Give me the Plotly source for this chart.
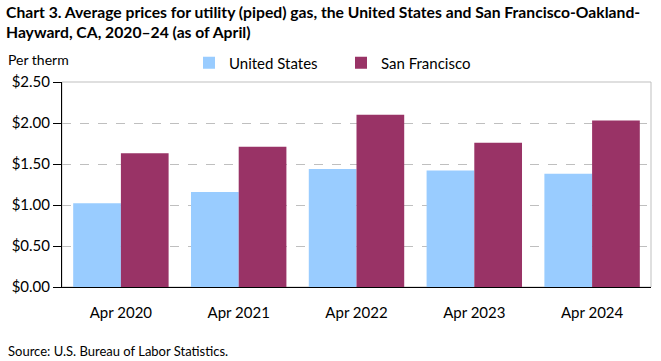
import plotly.graph_objects as go

categories = ["Apr 2020", "Apr 2021", "Apr 2022", "Apr 2023", "Apr 2024"]
us_values = [1.02, 1.16, 1.44, 1.42, 1.38]
sf_values = [1.63, 1.71, 2.10, 1.76, 2.03]
y_ticks = [0, 0.5, 1.0, 1.5, 2.0, 2.5]
y_tick_labels = ["$0.00", "$0.50", "$1.00", "$1.50", "$2.00", "$2.50"]

FONT = "Lato, Calibri, Carlito, sans-serif"
PLOT_W = 661 - 62 - 10
PLOT_H = 361 - 82 - 74


def px_x(px):
    return (px - 62) / PLOT_W


def px_y(py):
    return (361 - 74 - py) / PLOT_H


fig = go.Figure()
fig.add_trace(go.Bar(x=categories, y=us_values, name="United States",
                     marker=dict(color="#99CCFF", line=dict(width=0))))
fig.add_trace(go.Bar(x=categories, y=sf_values, name="San Francisco",
                     marker=dict(color="#993366", line=dict(width=0))))

fig.update_layout(
    width=661, height=361,
    margin=dict(l=62, r=10, t=82, b=74),
    paper_bgcolor="white", plot_bgcolor="white",
    font=dict(family=FONT, size=14, color="black"),
    barmode="group", bargap=0.19, bargroupgap=0,
    showlegend=True,
    legend=dict(orientation="h", x=px_x(189), xanchor="left", y=px_y(63), yanchor="middle",
                font=dict(size=15), entrywidth=107, entrywidthmode="pixels",
                traceorder="normal", bgcolor="rgba(0,0,0,0)"),
    shapes=[dict(type="rect", xref="paper", yref="paper", x0=0, x1=1, y0=0, y1=1,
                 line=dict(color="#BFBFBF", width=1), layer="below")],
    annotations=[
        dict(text="<b>Chart 3. Average prices for utility (piped) gas, the United States and San Francisco-Oakland-<br>Hayward, CA, 2020–24 (as of April)</b>",
             xref="paper", yref="paper", x=px_x(4), y=px_y(1), xanchor="left", yanchor="top",
             align="left", showarrow=False, font=dict(size=15.7)),
        dict(text="Per therm", xref="paper", yref="paper", x=px_x(6), y=px_y(60),
             xanchor="left", yanchor="middle", showarrow=False, font=dict(size=14)),
        dict(text="Source: U.S. Bureau of Labor Statistics.", xref="paper", yref="paper",
             x=px_x(6), y=px_y(351), xanchor="left", yanchor="middle", showarrow=False,
             font=dict(size=13)),
    ],
)
fig.update_yaxes(range=[0, 2.5], tickvals=y_ticks, ticktext=y_tick_labels,
                 showgrid=True, gridcolor="#BFBFBF", griddash="dash", gridwidth=1,
                 showline=True, linecolor="black", linewidth=1,
                 ticks="outside", ticklen=8, tickcolor="black",
                 tickfont=dict(size=15), zeroline=False)
fig.update_xaxes(showline=True, linecolor="black", linewidth=1, ticks="",
                 tickfont=dict(size=15), ticklabelstandoff=12)

fig.write_html("out.html", config={"displayModeBar": False},
               post_script="document.body.style.margin='0';document.body.style.overflow='hidden';")
